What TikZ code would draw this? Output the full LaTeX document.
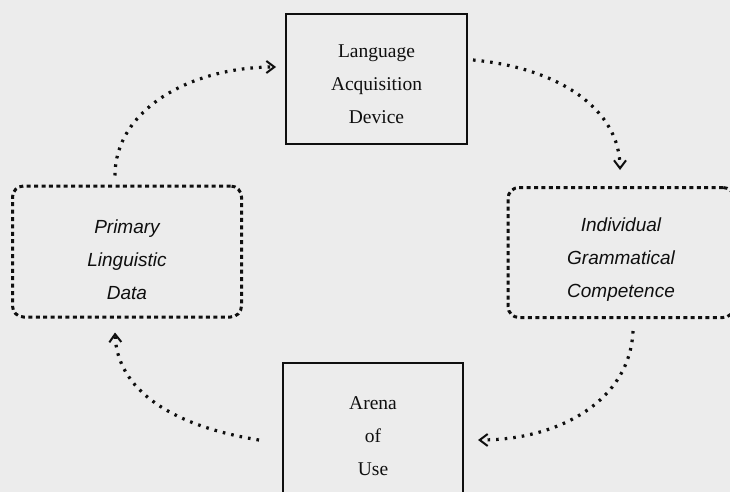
\documentclass[tikz,border=0pt]{standalone}
\usepackage{fontspec}
\setmainfont{Liberation Serif}
\newfontfamily\itsans{Liberation Sans}
\usetikzlibrary{arrows.meta,calc}
\definecolor{paper}{RGB}{236,236,236}
\definecolor{ink}{RGB}{15,15,15}
\tikzset{
  solidbox/.style={draw=ink, line width=2pt, fill=none, inner sep=0pt},
  dotbox/.style={draw=ink, line width=3pt, rounded corners=11pt, dash pattern=on 4pt off 3.4pt, inner sep=0pt},
  uptext/.style={align=center, text=ink, font=\fontsize{19.5}{33}\selectfont},
  ittext/.style={align=center, text=ink, font=\itsans\itshape\fontsize{19}{33}\selectfont},
  flow/.style={draw=ink, line width=3.2pt, dash pattern=on 2.6pt off 6pt,
    -{Straight Barb[length=8pt,width=12pt,line width=2pt]}}
}
\begin{document}
\begin{tikzpicture}[x=1pt,y=-1pt]
\fill[paper] (0,0) rectangle (730,492);
\useasboundingbox (0,0) rectangle (730,492);
\clip (0,0) rectangle (730,492);
% boxes
\node[solidbox, minimum width=181pt, minimum height=130pt] (lad) at (376.5,79) {};
\node[uptext] (ladt) at ($(lad.center)+(0,5)$) {Language\\Acquisition\\Device};
\node[solidbox, minimum width=180pt, minimum height=138pt] (aou) at (373,432) {};
\node[uptext] (aout) at ($(aou.center)+(0,4)$) {Arena\\of\\Use};
\node[dotbox, minimum width=229pt, minimum height=131pt] (pld) at (127,251.5) {};
\node[ittext] (pldt) at ($(pld.center)+(0,8)$) {Primary\\Linguistic\\Data};
\node[dotbox, minimum width=226pt, minimum height=130pt] (igc) at (621,252.5) {};
\node[ittext] (igct) at ($(igc.center)+(0,7)$) {Individual\\Grammatical\\Competence};
% connectors
\draw[flow] ($(pld.north)+(-12,-9)$) .. controls (115,110) and (190,67) .. ($(lad.west)+(-9,-12)$);
\draw[flow] ($(lad.east)+(5,-19)$) .. controls (560,68) and (620,110) .. ($(igc.north)+(-1,-16)$);
\draw[flow] ($(igc.south)+(12,12)$) .. controls (630,400) and (560,440) .. ($(aou.east)+(14,8)$);
\draw[flow] ($(aou.west)+(-23,8)$) .. controls (172,426) and (117,390) .. ($(pld.south)+(-12,14)$);
\end{tikzpicture}
\end{document}
